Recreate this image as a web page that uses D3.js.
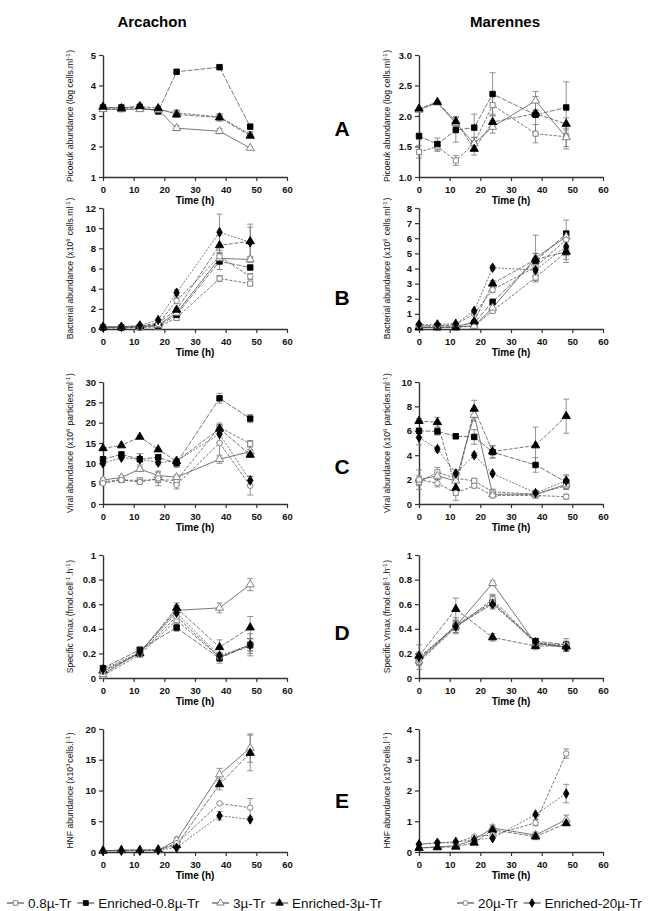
<!DOCTYPE html>
<html>
<head>
<meta charset="utf-8">
<script src="https://d3js.org/d3.v7.min.js"></script>
<style>
body { margin: 0; background: #fff; }
svg text { font-family: "Liberation Sans", Arial, sans-serif; }
</style>
</head>
<body>
<div id="chart"></div>
<script>
let CHART_WIDTH = 671;
let CHART_HEIGHT = 911;

var seriesNames = ["0.8\u00b5-Tr", "Enriched-0.8\u00b5-Tr", "3\u00b5-Tr", "Enriched-3\u00b5-Tr", "20\u00b5-Tr", "Enriched-20\u00b5-Tr"];
var siteNames = ["Arcachon", "Marennes"];
var panelLetters = ["A", "B", "C", "D", "E"];
var timeFull = [0, 6, 12, 18, 24, 38, 48];
var timeVmax = [0, 12, 24, 38, 48];
var xTicks = [0, 10, 20, 30, 40, 50, 60];

// y labels per row, ^{..} = superscript
var yLabels = [
	"Picoeuk abundance (log cells.ml^{-1})",
	"Bacterial abundance (x10^{6} cells.ml^{-1})",
	"Viral abundance (x10^{6} particles.ml^{-1})",
	"Specific Vmax (fmol.cell^{-1}.h^{-1})",
	"HNF abundance (x10^{3}cells.l^{-1})"
];

// tick labels
var arcPicoTicks = [1, 2, 3, 4, 5];
var marPicoTicks = [1.0, 1.5, 2.0, 2.5, 3.0];
var arcBactTicks = [0, 2, 4, 6, 8, 10, 12];
var marBactTicks = [0, 1, 2, 3, 4, 5, 6, 7, 8];
var arcVirTicks = [0, 5, 10, 15, 20, 25, 30];
var marVirTicks = [0, 2, 4, 6, 8, 10];
var vmaxTicks = [0, 0.2, 0.4, 0.6, 0.8, 1];
var arcHnfTicks = [0, 5, 10, 15, 20];
var marHnfTicks = [0, 1, 2, 3, 4];

// values: one row per series, in seriesNames order (null = not measured)
var arcPicoVals = [
	[3.25, 3.22, 3.25, 3.2, 3.1, 2.97, 2.4],
	[3.28, 3.28, 3.3, 3.15, 4.45, 4.6, 2.65],
	[3.22, 3.22, 3.22, 3.2, 2.6, 2.5, 1.95],
	[3.3, 3.25, 3.32, 3.25, 3.05, 2.95, 2.35],
	null, null
];
var arcPicoErr = [
	[0.05, 0.05, 0.05, 0.05, 0.1, 0.1, 0.05],
	[0.05, 0.05, 0.05, 0.05, 0.03, 0.03, 0.05],
	[0.05, 0.05, 0.05, 0.1, 0.08, 0.08, 0.05],
	[0.05, 0.05, 0.05, 0.05, 0.1, 0.12, 0.05],
	null, null
];
var marPicoVals = [
	[1.41, 1.5, 1.27, 1.55, 2.18, 1.71, 1.66],
	[1.67, 1.54, 1.77, 1.81, 2.36, 2.02, 2.14],
	[2.1, 2.22, 1.88, 1.55, 1.82, 2.25, 1.65],
	[2.12, 2.23, 1.91, 1.46, 1.9, 2.04, 1.87],
	null, null
];
var marPicoErr = [
	[0.1, 0.08, 0.08, 0.1, 0.15, 0.15, 0.2],
	[0.05, 0.1, 0.2, 0.22, 0.35, 0.3, 0.42],
	[0.03, 0.03, 0.1, 0.1, 0.1, 0.15, 0.15],
	[0.03, 0.03, 0.08, 0.1, 0.1, 0.05, 0.1],
	null, null
];
var arcBactVals = [
	[0.1, 0.1, 0.15, 0.2, 1.1, 5.0, 4.5],
	[0.15, 0.15, 0.2, 0.3, 1.4, 6.7, 6.1],
	[0.2, 0.2, 0.2, 0.4, 1.6, 7.0, 6.9],
	[0.2, 0.2, 0.3, 0.6, 1.9, 8.3, 8.7],
	[0.2, 0.2, 0.25, 0.5, 2.8, 7.2, 5.2],
	[0.2, 0.2, 0.35, 0.9, 3.6, 9.6, 8.6]
];
var arcBactErr = [
	[0.05, 0.05, 0.05, 0.05, 0.2, 0.3, 0.2],
	[0.05, 0.05, 0.05, 0.1, 0.2, 0.8, 0.2],
	[0.05, 0.05, 0.05, 0.1, 0.2, 0.5, 0.3],
	[0.05, 0.05, 0.05, 0.1, 0.2, 1.0, 1.7],
	[0.05, 0.05, 0.05, 0.1, 0.3, 0.4, 0.3],
	[0.05, 0.05, 0.05, 0.1, 0.3, 1.8, 1.5]
];
var marBactVals = [
	[0.1, 0.1, 0.1, 0.2, 1.2, 3.4, 5.1],
	[0.2, 0.2, 0.2, 0.4, 1.8, 4.5, 6.3],
	[0.1, 0.1, 0.15, 0.2, 1.4, 4.7, 6.1],
	[0.1, 0.1, 0.1, 0.5, 3.0, 4.6, 5.1],
	[0.2, 0.2, 0.3, 1.0, 2.6, 4.1, 5.9],
	[0.3, 0.3, 0.35, 1.2, 4.05, 3.9, 5.45]
];
var marBactErr = [
	[0.05, 0.05, 0.05, 0.05, 0.1, 0.3, 0.2],
	[0.05, 0.05, 0.05, 0.1, 0.1, 0.5, 0.2],
	[0.05, 0.05, 0.05, 0.05, 0.2, 1.5, 0.3],
	[0.05, 0.05, 0.05, 0.1, 0.2, 0.4, 0.7],
	[0.05, 0.05, 0.05, 0.1, 0.2, 0.4, 1.3],
	[0.05, 0.05, 0.05, 0.1, 0.15, 0.4, 0.6]
];
var arcVirVals = [
	[5.5, 5.9, 5.8, 6.0, 5.8, 18.9, 14.8],
	[11.0, 12.2, 11.0, 11.5, 10.0, 26.0, 21.0],
	[5.9, 6.5, 8.6, 7.0, 6.6, 11.0, 12.9],
	[13.7, 14.4, 16.5, 13.4, 10.5, 18.5, 12.1],
	[5.1, 5.9, 5.4, 6.3, 4.7, 15.0, 4.5],
	[10.0, 11.4, 11.0, 10.2, 10.6, 17.2, 5.8]
];
var arcVirErr = [
	[0.5, 0.5, 0.6, 0.8, 0.6, 1.0, 0.8],
	[0.6, 0.5, 1.4, 0.6, 1.0, 1.2, 1.0],
	[0.5, 0.5, 0.5, 0.8, 0.5, 1.0, 0.5],
	[0.4, 0.4, 0.4, 0.4, 0.5, 1.0, 0.6],
	[0.4, 0.5, 0.5, 1.8, 1.0, 3.5, 2.3],
	[0.5, 0.5, 0.5, 0.6, 0.5, 2.0, 1.0]
];
var marVirVals = [
	[1.8, 2.6, 2.1, 1.9, 1.0, 0.8, 1.5],
	[6.0, 5.95, 5.55, 5.5, 4.25, 3.2, 1.8],
	[2.0, 2.3, 1.9, 7.3, 0.8, 0.8, 1.6],
	[6.8, 6.7, 1.3, 7.8, 4.3, 4.8, 7.2],
	[2.0, 1.7, 0.9, 1.5, 0.7, 0.7, 0.6],
	[5.45, 4.5, 2.5, 4.0, 2.5, 0.9, 1.9]
];
var marVirErr = [
	[0.3, 0.4, 0.3, 0.2, 0.2, 0.2, 0.3],
	[0.2, 0.3, 0.2, 0.6, 0.5, 0.6, 0.5],
	[0.8, 0.3, 0.6, 0.5, 0.2, 0.3, 0.4],
	[0.2, 0.4, 1.0, 0.7, 0.5, 1.5, 1.4],
	[0.3, 0.3, 0.2, 0.2, 0.2, 0.2, 0.2],
	[0.6, 0.2, 0.3, 0.2, 0.1, 0.2, 0.5]
];
var arcVmaxVals = [
	[0.02, 0.19, 0.47, 0.17, 0.26],
	[0.08, 0.23, 0.41, 0.16, 0.27],
	[0.03, 0.21, 0.55, 0.57, 0.76],
	[0.06, 0.2, 0.57, 0.25, 0.41],
	[0.05, 0.2, 0.5, 0.17, 0.27],
	[0.07, 0.21, 0.53, 0.18, 0.27]
];
var arcVmaxErr = [
	[0.01, 0.02, 0.04, 0.03, 0.06],
	[0.01, 0.02, 0.03, 0.04, 0.09],
	[0.01, 0.02, 0.04, 0.04, 0.05],
	[0.01, 0.02, 0.04, 0.06, 0.09],
	[0.01, 0.02, 0.03, 0.03, 0.05],
	[0.01, 0.02, 0.03, 0.03, 0.05]
];
var marVmaxVals = [
	[0.13, 0.41, 0.64, 0.29, 0.25],
	[0.16, 0.42, 0.61, 0.3, 0.27],
	[0.14, 0.42, 0.77, 0.28, 0.25],
	[0.18, 0.56, 0.33, 0.26, 0.26],
	[0.15, 0.43, 0.62, 0.28, 0.27],
	[0.17, 0.42, 0.6, 0.29, 0.25]
];
var marVmaxErr = [
	[0.03, 0.05, 0.03, 0.02, 0.03],
	[0.03, 0.03, 0.03, 0.02, 0.03],
	[0.03, 0.05, 0.02, 0.02, 0.03],
	[0.03, 0.09, 0.03, 0.03, 0.03],
	[0.03, 0.06, 0.06, 0.02, 0.05],
	[0.1, 0.03, 0.03, 0.02, 0.03]
];
var arcHnfVals = [
	null, null,
	[0.2, 0.3, 0.3, 0.3, 1.9, 12.6, 16.9],
	[0.2, 0.3, 0.3, 0.4, 1.1, 11.0, 16.1],
	[0.2, 0.2, 0.3, 0.3, 1.4, 7.9, 7.2],
	[0.2, 0.2, 0.2, 0.3, 0.7, 5.9, 5.3]
];
var arcHnfErr = [
	null, null,
	[0.1, 0.1, 0.1, 0.1, 0.5, 1.0, 2.3],
	[0.1, 0.1, 0.1, 0.1, 0.3, 0.9, 2.9],
	[0.1, 0.1, 0.1, 0.1, 0.3, 0.3, 1.5],
	[0.1, 0.1, 0.1, 0.1, 0.2, 0.7, 0.2]
];
var marHnfVals = [
	null, null,
	[0.13, 0.17, 0.2, 0.4, 0.78, 0.55, 1.05],
	[0.13, 0.15, 0.17, 0.3, 0.72, 0.5, 0.93],
	[0.25, 0.3, 0.3, 0.5, 0.55, 0.95, 3.2],
	[0.25, 0.3, 0.33, 0.4, 0.45, 1.22, 1.9]
];
var marHnfErr = [
	null, null,
	[0.02, 0.02, 0.02, 0.05, 0.1, 0.1, 0.15],
	[0.02, 0.02, 0.02, 0.05, 0.1, 0.1, 0.05],
	[0.02, 0.03, 0.03, 0.05, 0.08, 0.1, 0.15],
	[0.02, 0.02, 0.02, 0.05, 0.05, 0.05, 0.3]
];

// layout
var colX = [[103, 287], [419, 603]];
var rowY = [[55, 177], [208, 329], [382, 504], [555, 678], [729, 852]];
var letterY = [128, 297, 466, 632, 800];

var markerStyle = [
	{sym: d3.symbolSquare, size: 26, fill: "#fff", stroke: "#777", dash: "3,1.5"},
	{sym: d3.symbolSquare, size: 30, fill: "#000", stroke: "#000", dash: "5,1.5"},
	{sym: d3.symbolTriangle, size: 28, fill: "#fff", stroke: "#777", dash: null},
	{sym: d3.symbolTriangle, size: 30, fill: "#000", stroke: "#000", dash: "4,1.5"},
	{sym: d3.symbolCircle, size: 24, fill: "#fff", stroke: "#777", dash: "3,1.5"},
	{sym: d3.symbolDiamond, size: 26, fill: "#000", stroke: "#000", dash: "2,1.5"}
];

var panels = [
	{row: 0, col: 0, vals: arcPicoVals, errs: arcPicoErr, time: timeFull, ticks: arcPicoTicks, fmt: d3.format("d")},
	{row: 0, col: 1, vals: marPicoVals, errs: marPicoErr, time: timeFull, ticks: marPicoTicks, fmt: d3.format(".1f")},
	{row: 1, col: 0, vals: arcBactVals, errs: arcBactErr, time: timeFull, ticks: arcBactTicks, fmt: d3.format("d")},
	{row: 1, col: 1, vals: marBactVals, errs: marBactErr, time: timeFull, ticks: marBactTicks, fmt: d3.format("d")},
	{row: 2, col: 0, vals: arcVirVals, errs: arcVirErr, time: timeFull, ticks: arcVirTicks, fmt: d3.format("d")},
	{row: 2, col: 1, vals: marVirVals, errs: marVirErr, time: timeFull, ticks: marVirTicks, fmt: d3.format("d")},
	{row: 3, col: 0, vals: arcVmaxVals, errs: arcVmaxErr, time: timeVmax, ticks: vmaxTicks, fmt: d3.format("")},
	{row: 3, col: 1, vals: marVmaxVals, errs: marVmaxErr, time: timeVmax, ticks: vmaxTicks, fmt: d3.format("")},
	{row: 4, col: 0, vals: arcHnfVals, errs: arcHnfErr, time: timeFull, ticks: arcHnfTicks, fmt: d3.format("d")},
	{row: 4, col: 1, vals: marHnfVals, errs: marHnfErr, time: timeFull, ticks: marHnfTicks, fmt: d3.format("d")}
];

// writes text with ^{..} parts as superscripts
function richText(sel, str, size) {
	var parts = str.split(/(\^\{[^}]*\})/);
	parts.forEach(function (p) {
		if (!p) return;
		if (p.indexOf("^{") === 0) {
			sel.append("tspan").attr("dy", -size * 0.4).attr("font-size", size * 0.7).text(p.slice(2, -1));
			sel.append("tspan").attr("dy", size * 0.4).text("\u200a");
		} else {
			sel.append("tspan").text(p);
		}
	});
}

var svg = d3.select("#chart").append("svg")
	.attr("width", CHART_WIDTH)
	.attr("height", CHART_HEIGHT);

siteNames.forEach(function (name, i) {
	svg.append("text")
		.attr("x", i === 0 ? 152 : 505)
		.attr("y", 27)
		.attr("text-anchor", "middle")
		.attr("font-size", 15)
		.attr("font-weight", "bold")
		.text(name);
});

panelLetters.forEach(function (l, i) {
	svg.append("text")
		.attr("x", 342)
		.attr("y", letterY[i] + 8)
		.attr("text-anchor", "middle")
		.attr("font-size", 21)
		.attr("font-weight", "bold")
		.text(l);
});

panels.forEach(function (p) {
	var x0 = colX[p.col][0], x1 = colX[p.col][1];
	var yTop = rowY[p.row][0], yBot = rowY[p.row][1];
	var yMin = p.ticks[0], yMax = p.ticks[p.ticks.length - 1];

	var xScale = d3.scaleLinear().domain([0, 60]).range([x0, x1]);
	var yScale = d3.scaleLinear().domain([yMin, yMax]).range([yBot, yTop]);

	var g = svg.append("g");

	var xAxis = g.append("g")
		.attr("transform", "translate(0," + yBot + ")")
		.call(d3.axisBottom(xScale).tickValues(xTicks).tickSize(4).tickSizeOuter(0));
	var yAxis = g.append("g")
		.attr("transform", "translate(" + x0 + ",0)")
		.call(d3.axisLeft(yScale).tickValues(p.ticks).tickFormat(p.fmt).tickSize(4).tickSizeOuter(0));

	[xAxis, yAxis].forEach(function (a) {
		a.select(".domain").attr("stroke", "#333").attr("stroke-width", 1.4);
		a.selectAll(".tick line").attr("stroke", "#333").attr("stroke-width", 1.2);
		a.selectAll(".tick text")
			.attr("font-size", 9.5)
			.attr("font-weight", "bold")
			.attr("fill", "#111")
			.style("font-family", "'Liberation Sans', Arial, sans-serif");
	});
	xAxis.selectAll(".tick text").attr("dy", "0.9em");

	g.append("text")
		.attr("x", (x0 + x1) / 2)
		.attr("y", yBot + 27)
		.attr("text-anchor", "middle")
		.attr("font-size", 10)
		.attr("font-weight", "bold")
		.text("Time (h)");

	var lx = p.col === 0 ? 73 : 390;
	var ly = (yTop + yBot) / 2;
	var yl = g.append("text")
		.attr("transform", "translate(" + lx + "," + ly + ") rotate(-90)")
		.attr("text-anchor", "middle")
		.attr("font-size", 8.6)
		.attr("fill", "#111");
	richText(yl, yLabels[p.row], 8.6);

	var line = d3.line()
		.x(function (d) { return xScale(d.t); })
		.y(function (d) { return yScale(d.v); });

	p.vals.forEach(function (vals, si) {
		if (!vals) return;
		var st = markerStyle[si];
		var pts = vals.map(function (v, i) {
			return {t: p.time[i], v: v, e: p.errs[si][i]};
		});

		g.append("path")
			.datum(pts)
			.attr("d", line)
			.attr("fill", "none")
			.attr("stroke", "#555")
			.attr("stroke-width", 0.8)
			.attr("stroke-dasharray", st.dash);

		var eb = g.selectAll(".err" + si)
			.data(pts.filter(function (d) { return Math.abs(yScale(d.v - d.e) - yScale(d.v + d.e)) > 4; }))
			.enter().append("g")
			.attr("stroke", "#777")
			.attr("stroke-width", 0.8);
		eb.append("line")
			.attr("x1", function (d) { return xScale(d.t); })
			.attr("x2", function (d) { return xScale(d.t); })
			.attr("y1", function (d) { return yScale(Math.max(yMin, d.v - d.e)); })
			.attr("y2", function (d) { return yScale(d.v + d.e); });
		eb.append("line")
			.attr("x1", function (d) { return xScale(d.t) - 3; })
			.attr("x2", function (d) { return xScale(d.t) + 3; })
			.attr("y1", function (d) { return yScale(d.v + d.e); })
			.attr("y2", function (d) { return yScale(d.v + d.e); });
		eb.filter(function (d) { return d.v - d.e > yMin; }).append("line")
			.attr("x1", function (d) { return xScale(d.t) - 3; })
			.attr("x2", function (d) { return xScale(d.t) + 3; })
			.attr("y1", function (d) { return yScale(d.v - d.e); })
			.attr("y2", function (d) { return yScale(d.v - d.e); });
	});

	// markers on top
	p.vals.forEach(function (vals, si) {
		if (!vals) return;
		var st = markerStyle[si];
		g.selectAll(".mk" + si)
			.data(vals.map(function (v, i) { return {t: p.time[i], v: v}; }))
			.enter().append("path")
			.attr("transform", function (d) { return "translate(" + xScale(d.t) + "," + yScale(d.v) + ")"; })
			.attr("d", d3.symbol().type(st.sym).size(st.size))
			.attr("fill", st.fill)
			.attr("stroke", st.stroke)
			.attr("stroke-width", 0.9);
	});
});

// legend: three pairs, each pair starts at a fixed x, second item follows the first
var legendGroupX = [7, 212, 457];
var legendY = 903;
var curX = 0;
seriesNames.forEach(function (name, i) {
	var st = markerStyle[i];
	if (i % 2 === 0) curX = legendGroupX[i / 2];
	var lg = svg.append("g").attr("transform", "translate(" + curX + "," + legendY + ")");
	lg.append("line")
		.attr("x1", 0).attr("x2", 17)
		.attr("stroke", "#333").attr("stroke-width", 1);
	lg.append("path")
		.attr("transform", "translate(8.5,0)")
		.attr("d", d3.symbol().type(st.sym).size(st.size * 0.8))
		.attr("fill", st.fill)
		.attr("stroke", st.stroke)
		.attr("stroke-width", 0.9);
	var t = lg.append("text")
		.attr("x", 21)
		.attr("y", 5)
		.attr("font-size", 13.5)
		.attr("fill", "#111")
		.text(name);
	curX += 21 + t.node().getComputedTextLength() + 6;
});
</script>
</body>
</html>
